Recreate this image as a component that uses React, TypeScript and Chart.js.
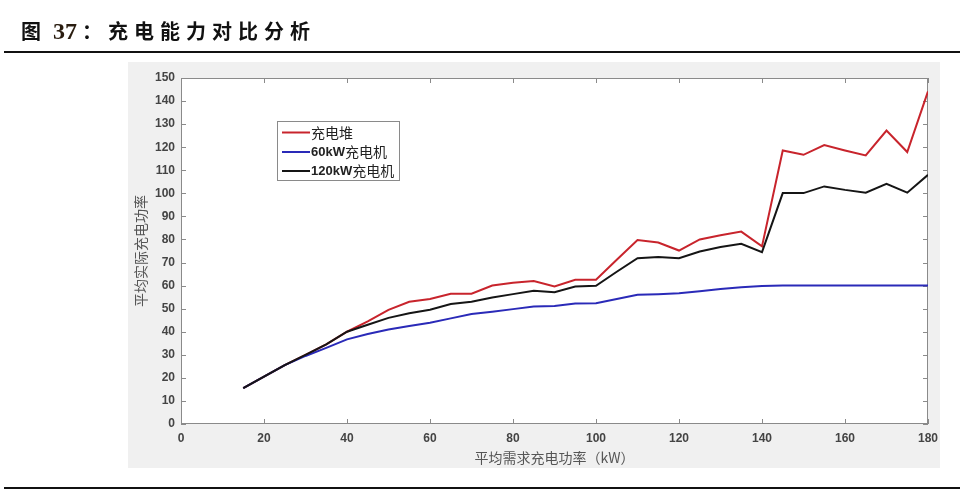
import React, { useEffect, useRef } from "react";
import { Chart, registerables } from "chart.js";

Chart.register(...registerables);

// ---- data ----
const demandPower = [15, 20, 25, 30, 35, 40, 45, 50, 55, 60, 65, 70, 75, 80, 85, 90, 95, 100, 105, 110, 115, 120, 125, 130, 135, 140, 145, 150, 155, 160, 165, 170, 175, 180];
const pileValues = [15.5, 20.5, 25.5, 30, 34.5, 40, 44.5, 49.5, 53, 54.2, 56.5, 56.5, 60, 61.2, 62, 59.6, 62.5, 62.5, 71.2, 79.8, 78.7, 75.2, 80, 81.8, 83.4, 77, 118.6, 116.7, 120.9, 118.6, 116.4, 127.2, 117.9, 144.2];
const charger60Values = [15.5, 20.5, 25.5, 29.5, 33, 36.7, 39, 41, 42.5, 43.9, 45.8, 47.7, 48.7, 49.8, 50.9, 51.2, 52.2, 52.4, 54.2, 56, 56.3, 56.7, 57.5, 58.5, 59.3, 59.8, 60, 60, 60, 60, 60, 60, 60, 60];
const charger120Values = [15.5, 20.5, 25.5, 30, 34.5, 40, 43, 46, 48, 49.5, 52, 53, 54.8, 56.3, 57.8, 57.1, 59.6, 59.9, 66, 71.9, 72.4, 71.9, 74.8, 76.7, 78.1, 74.5, 100.1, 100.1, 103, 101.5, 100.3, 104.1, 100.3, 108];
const seriesLabels = ["充电堆", "60kW充电机", "120kW充电机"];
const seriesColors = ["#c8242c", "#2a2ab8", "#151515"];
const xTickValues = [0, 20, 40, 60, 80, 100, 120, 140, 160, 180];
const yTickValues = [0, 10, 20, 30, 40, 50, 60, 70, 80, 90, 100, 110, 120, 130, 140, 150];
const titlePrefix = "图";
const titleNumber = "37";
const titleText = "：充电能力对比分析";
const xAxisTitle = "平均需求充电功率（kW）";
const yAxisTitle = "平均实际充电功率";

const toPoints = (ys: number[]) => ys.map((y, i) => ({ x: demandPower[i], y }));

const TICK_FONT = { family: "'Liberation Sans', Arial, sans-serif", size: 12, weight: "bold" as const };

const panelPlugin = {
  id: "panel",
  beforeDraw(chart: any) {
    const { ctx, chartArea: a } = chart;
    ctx.save();
    ctx.fillStyle = "#ffffff";
    ctx.fillRect(0, 0, chart.width, chart.height);
    ctx.fillStyle = "#f0f0f0";
    ctx.fillRect(128, 62, 812, 406);
    ctx.fillStyle = "#ffffff";
    ctx.fillRect(a.left, a.top, a.right - a.left, a.bottom - a.top);
    ctx.restore();
  },
  beforeDatasetsDraw(chart: any) {
    const { ctx, chartArea: a, scales } = chart;
    ctx.save();
    ctx.strokeStyle = "#8a8a8a";
    ctx.lineWidth = 1;
    ctx.strokeRect(a.left + 0.5, a.top + 0.5, a.right - a.left - 1, a.bottom - a.top - 1);
    const len = 5;
    ctx.beginPath();
    scales.x.ticks.forEach((t: any) => {
      const px = Math.round(scales.x.getPixelForValue(t.value)) + 0.5;
      ctx.moveTo(px, a.bottom);
      ctx.lineTo(px, a.bottom - len);
      ctx.moveTo(px, a.top);
      ctx.lineTo(px, a.top + len);
    });
    scales.y.ticks.forEach((t: any) => {
      const py = Math.round(scales.y.getPixelForValue(t.value)) + 0.5;
      ctx.moveTo(a.left, py);
      ctx.lineTo(a.left + len, py);
      ctx.moveTo(a.right, py);
      ctx.lineTo(a.right - len, py);
    });
    ctx.stroke();
    ctx.restore();
  },
  afterDraw(chart: any) {
    const { ctx } = chart;
    const bx = 277, by = 121, bw = 123, bh = 60;
    ctx.save();
    ctx.fillStyle = "#ffffff";
    ctx.fillRect(bx, by, bw, bh);
    ctx.strokeStyle = "#8a8a8a";
    ctx.lineWidth = 1;
    ctx.strokeRect(bx + 0.5, by + 0.5, bw - 1, bh - 1);
    const rows = [132.5, 152, 171];
    seriesLabels.forEach((label, i) => {
      const y = rows[i];
      ctx.strokeStyle = seriesColors[i];
      ctx.lineWidth = 2;
      ctx.beginPath();
      ctx.moveTo(282, y);
      ctx.lineTo(310, y);
      ctx.stroke();
      ctx.textBaseline = "middle";
      ctx.fillStyle = "#222";
      let x = 311;
      const parts = label.match(/[A-Za-z0-9]+|[^A-Za-z0-9]+/g) || [];
      parts.forEach((p) => {
        if (/^[A-Za-z0-9]+$/.test(p)) {
          ctx.font = "bold 13px 'Liberation Sans', Arial, sans-serif";
        } else {
          ctx.font = "14px 'Noto Sans CJK SC', sans-serif";
        }
        ctx.fillText(p, x, y);
        x += ctx.measureText(p).width;
      });
    });
    ctx.restore();
  },
};

export default function App() {
  const canvasRef = useRef<HTMLCanvasElement | null>(null);

  useEffect(() => {
    if (!canvasRef.current) return;
    const chart = new Chart(canvasRef.current, {
      type: "line",
      data: {
        datasets: [
          { label: seriesLabels[0], data: toPoints(pileValues), borderColor: seriesColors[0], borderWidth: 2, pointRadius: 0, order: 2, tension: 0 },
          { label: seriesLabels[1], data: toPoints(charger60Values), borderColor: seriesColors[1], borderWidth: 2, pointRadius: 0, order: 1, tension: 0 },
          { label: seriesLabels[2], data: toPoints(charger120Values), borderColor: seriesColors[2], borderWidth: 2, pointRadius: 0, order: 0, tension: 0 },
        ],
      },
      options: {
        animation: false,
        responsive: false,
        maintainAspectRatio: false,
        devicePixelRatio: 1,
        layout: { padding: { left: 0, top: 78, right: 32, bottom: 0 } },
        plugins: { legend: { display: false }, tooltip: { enabled: false } },
        scales: {
          x: {
            type: "linear",
            min: 0,
            max: 180,
            afterBuildTicks: (s: any) => {
              s.ticks = xTickValues.map((v) => ({ value: v }));
            },
            afterFit: (s: any) => {
              s.height = 69;
            },
            grid: { display: false, drawTicks: false },
            border: { display: false },
            ticks: { font: TICK_FONT, color: "#444", padding: 7, maxRotation: 0, autoSkip: false },
            title: {
              display: true,
              text: xAxisTitle,
              font: { family: "'Noto Sans CJK SC', sans-serif", size: 14 },
              color: "#555",
              padding: { top: 0, bottom: 27 },
            },
          },
          y: {
            type: "linear",
            min: 0,
            max: 150,
            afterBuildTicks: (s: any) => {
              s.ticks = yTickValues.map((v) => ({ value: v }));
            },
            afterFit: (s: any) => {
              s.width = 181;
            },
            grid: { display: false, drawTicks: false },
            border: { display: false },
            ticks: { font: TICK_FONT, color: "#444", padding: 6, autoSkip: false },
            title: {
              display: true,
              text: yAxisTitle,
              font: { family: "'Noto Sans CJK SC', sans-serif", size: 14 },
              color: "#555",
              padding: { top: 132, bottom: 0 },
            },
          },
        },
      },
      plugins: [panelPlugin],
    } as any);
    return () => chart.destroy();
  }, []);

  const cjk = { fontFamily: "'Noto Sans CJK SC', sans-serif", fontWeight: 700, fontSize: 20, letterSpacing: 6 };
  return (
    <div style={{ position: "absolute", left: 0, top: 0, width: 960, height: 493, background: "#fff" }}>
      <canvas ref={canvasRef} width={960} height={493} style={{ position: "absolute", left: 0, top: 0, width: 960, height: 493 }} />
      <div
        style={{
          position: "absolute",
          left: 21,
          top: 17,
          color: "#111",
          whiteSpace: "nowrap",
          lineHeight: "28px",
        }}
      >
        <span style={{ ...cjk, letterSpacing: 12 }}>{titlePrefix}</span>
        <span style={{ fontFamily: "'Liberation Serif', serif", fontWeight: 700, fontSize: 24, letterSpacing: 0, color: "#2a1d10" }}>{titleNumber}</span>
        <span style={{ ...cjk, letterSpacing: 6, marginLeft: 5 }}>{titleText}</span>
      </div>
      <div style={{ position: "absolute", left: 4, top: 51, width: 956, height: 2, background: "#111" }} />
      <div style={{ position: "absolute", left: 4, top: 487, width: 956, height: 2, background: "#111" }} />
    </div>
  );
}
